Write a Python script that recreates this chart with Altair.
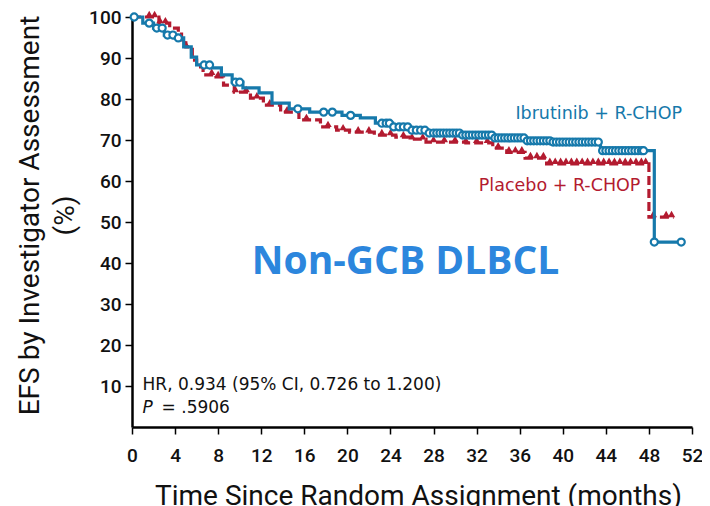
import altair as alt
import pandas as pd
import numpy as np

# ---- data ----
x_ticks = list(range(0, 53, 4))
y_ticks = list(range(10, 101, 10))

ibr_t = [0, 1.0, 2.0, 3.0, 4.0, 4.8, 5.5, 6.0, 7.3, 8.3, 9.3, 10.3, 11.8, 13.0, 14.6,
         16.5, 19.5, 21.2, 22.6, 24.2, 25.8, 27.5, 30.5, 33.5, 36.5, 39.0, 43.5, 48.5, 51.0]
ibr_s = [100, 98.5, 97.3, 95.6, 94.9, 92.7, 90.2, 88.3, 87.6, 85.9, 84.1, 82.7, 81.5, 79.0, 77.6,
         76.8, 76.0, 75.4, 74.1, 73.2, 72.4, 71.7, 71.2, 70.5, 69.8, 69.5, 67.4, 45.1, 45.1]

pla_t = [0, 2.5, 3.5, 4.3, 4.6, 5.0, 5.6, 6.0, 6.6, 7.8, 8.5, 9.5, 11.0, 12.2, 13.8, 15.5,
         17.5, 19.0, 20.2, 22.5, 24.5, 26.0, 27.3, 31.0, 33.5, 34.8, 36.5, 38.5, 48.0, 50.3]
pla_s = [100, 98.5, 97.3, 96.3, 94.4, 92.7, 89.5, 87.8, 85.9, 85.4, 83.4, 81.7, 80.2, 78.5, 76.8, 74.9,
         73.2, 72.4, 71.9, 71.2, 70.7, 70.2, 69.5, 69.3, 68.0, 67.0, 65.6, 64.2, 51.2, 51.2]

ibr_cens = [0.2, 1.6, 2.3, 2.8, 3.3, 3.8, 4.3, 6.7, 7.2, 9.6, 10.0, 15.4, 17.8, 18.6, 20.3,
            23.2, 23.6, 23.9, 24.3, 24.8, 25.2, 25.6, 26.0, 26.4, 26.8, 27.2, 27.6, 28.0, 28.3,
            28.6, 28.9, 29.2, 29.5, 29.8, 30.1, 30.4, 30.7, 31.0, 31.3, 31.6, 31.9, 32.2, 32.5,
            32.8, 33.1, 33.4, 33.7, 34.0, 34.3, 34.6, 34.9, 35.2, 35.5, 35.8, 36.1, 36.4, 36.7,
            37.0, 37.3, 37.6, 37.9, 38.2, 38.5, 38.8, 39.1, 39.4, 39.7, 40.0, 40.3, 40.6, 40.9,
            41.2, 41.5, 41.8, 42.1, 42.4, 42.7, 43.0, 43.3, 43.7, 44.0, 44.3, 44.6, 44.9, 45.2,
            45.5, 45.8, 46.1, 46.4, 46.7, 47.0, 47.3, 47.5, 48.5, 51.0]
pla_cens = [1.6, 2.1, 2.6, 3.1, 5.0, 7.4, 8.0, 9.6, 10.6, 11.6, 12.8, 14.4, 16.2, 18.2, 19.6,
            21.0, 22.0, 23.2, 24.0, 25.2, 26.0, 27.0, 28.0, 29.0, 30.0, 31.0, 32.0, 33.0, 34.0,
            35.0, 35.6, 36.2, 37.0, 37.6, 38.2, 38.8, 39.3, 39.8, 40.3, 40.8, 41.3, 41.8, 42.3,
            42.8, 43.3, 43.8, 44.3, 44.8, 45.3, 45.8, 46.3, 46.8, 47.3, 47.7, 48.4, 49.6, 50.1]

BLUE = "#1679ab"
RED = "#b31b30"


def on_curve(ts, ss, xs):
    idx = np.searchsorted(np.array(ts), np.array(xs), side="right") - 1
    return [ss[max(i, 0)] for i in idx]


ibr_df = pd.DataFrame({"t": ibr_t, "s": ibr_s})
pla_df = pd.DataFrame({"t": pla_t, "s": pla_s})
ibr_c = pd.DataFrame({"t": ibr_cens, "s": on_curve(ibr_t, ibr_s, ibr_cens)})
pla_c = pd.DataFrame({"t": pla_cens, "s": on_curve(pla_t, pla_s, pla_cens)})

xsc = alt.Scale(domain=[0, 52], nice=False, zero=False)
ysc = alt.Scale(domain=[0, 100], nice=False)

x_axis = alt.Axis(values=x_ticks, title="Time Since Random Assignment (months)",
                  titleFontSize=28, titleFont="Roboto", titleFontWeight="normal",
                  titleBaseline="alphabetic", titleY=77, titleX=286, titleColor="#111",
                  labelFont="Roboto", labelFontSize=19, labelFontWeight=500, labelColor="#111",
                  labelPadding=12,
                  tickSize=7, tickWidth=1.5, tickColor="#000",
                  domainColor="#000", domainWidth=2.5, grid=False, labelFlush=False)
y_axis = alt.Axis(values=y_ticks, title=["EFS by Investigator Assessment", "(%)"],
                  titleFontSize=28, titleFont="Roboto", titleFontWeight="normal",
                  titleBaseline="alphabetic", titleX=-94, titleY=198, titleAngle=270,
                  titleAlign="center", titleLineHeight=35, titleColor="#111",
                  labelFont="Roboto", labelFontSize=19, labelFontWeight=500, labelColor="#111",
                  labelPadding=4,
                  tickSize=7, tickWidth=1.5, tickColor="#000",
                  domainColor="#000", domainWidth=2.5, grid=False)

pla_line = alt.Chart(pla_df).mark_line(interpolate="step-after", color=RED, strokeWidth=3.2,
                                       strokeDash=[9, 4]).encode(
    x=alt.X("t:Q", scale=xsc, axis=x_axis),
    y=alt.Y("s:Q", scale=ysc, axis=y_axis))
pla_marks = alt.Chart(pla_c).mark_point(shape="triangle-up", filled=True, color=RED, size=55,
                                        opacity=1, yOffset=-3).encode(
    x=alt.X("t:Q", scale=xsc), y=alt.Y("s:Q", scale=ysc))
ibr_line = alt.Chart(ibr_df).mark_line(interpolate="step-after", color=BLUE, strokeWidth=3.2).encode(
    x=alt.X("t:Q", scale=xsc), y=alt.Y("s:Q", scale=ysc))
ibr_marks = alt.Chart(ibr_c).mark_point(shape="circle", filled=False, color=BLUE, size=50,
                                        strokeWidth=2.2, opacity=1, fill="white", fillOpacity=1).encode(
    x=alt.X("t:Q", scale=xsc), y=alt.Y("s:Q", scale=ysc))

# ---- annotations ----
lab_text = ["Ibrutinib + R-CHOP", "Placebo + R-CHOP"]
lab_t = [35.6, 32.2]
lab_s = [76.3, 58.8]
lab_col = [BLUE, RED]
labels = alt.Chart(pd.DataFrame({"txt": lab_text, "t": lab_t, "s": lab_s, "c": lab_col})).mark_text(
    align="left", baseline="middle", font="DejaVu Sans", fontSize=17.5).encode(
    x=alt.X("t:Q", scale=xsc), y=alt.Y("s:Q", scale=ysc), text="txt:N",
    color=alt.Color("c:N", scale=None))

title_df = pd.DataFrame({"txt": ["Non-GCB DLBCL"], "t": [25.4], "s": [40.2]})
big = alt.Chart(title_df).mark_text(align="center", baseline="middle", font="Open Sans",
                                    fontWeight="bold", fontSize=39, color="#2c86dd").encode(
    x=alt.X("t:Q", scale=xsc), y=alt.Y("s:Q", scale=ysc), text="txt:N")

hr_df = pd.DataFrame({"txt": ["HR, 0.934 (95% CI, 0.726 to 1.200)"], "t": [0.98], "s": [9.0]})
hr = alt.Chart(hr_df).mark_text(align="left", baseline="alphabetic", font="DejaVu Sans",
                                fontSize=17, color="#111").encode(
    x=alt.X("t:Q", scale=xsc), y=alt.Y("s:Q", scale=ysc), text="txt:N")
p1_df = pd.DataFrame({"txt": ["P"], "t": [0.98], "s": [3.4]})
p1 = alt.Chart(p1_df).mark_text(align="left", baseline="alphabetic", font="DejaVu Sans",
                                fontStyle="italic", fontSize=17, color="#111").encode(
    x=alt.X("t:Q", scale=xsc), y=alt.Y("s:Q", scale=ysc), text="txt:N")
p2_df = pd.DataFrame({"txt": ["= .5906"], "t": [2.75], "s": [3.4]})
p2 = alt.Chart(p2_df).mark_text(align="left", baseline="alphabetic", font="DejaVu Sans",
                                fontSize=17, color="#111").encode(
    x=alt.X("t:Q", scale=xsc), y=alt.Y("s:Q", scale=ysc), text="txt:N")

chart = alt.layer(pla_line, pla_marks, ibr_line, ibr_marks, labels, big, hr, p1, p2).properties(
    width=560, height=410,
    autosize=alt.AutoSizeParams(type="none"),
    padding={"left": 124, "top": 9, "right": 10, "bottom": 80},
    background="white",
).configure_view(stroke=None)

chart.save("out.html", embed_options={"renderer": "svg", "actions": False})
